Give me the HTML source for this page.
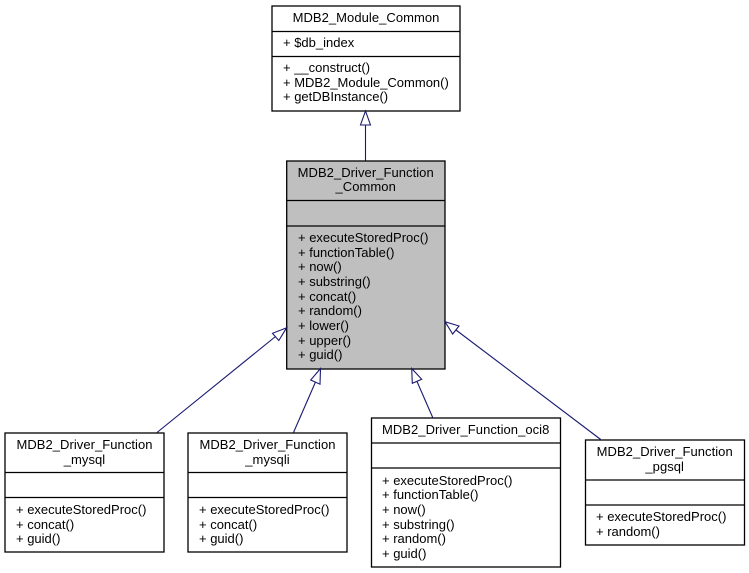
<!DOCTYPE html>
<html><head><meta charset="utf-8"><style>
html,body{margin:0;padding:0;background:#fff;width:749px;height:573px;overflow:hidden}
svg{display:block}
text{font-family:"Liberation Sans",sans-serif;font-size:13px;fill:#000}
.m{text-anchor:middle;letter-spacing:.05px}
rect,.d{stroke:#000;stroke-width:1.3}
.e{stroke:#191970;stroke-width:1.1;fill:none}
.a{stroke:#191970;stroke-width:1.1;fill:#fff}
</style></head><body>
<svg width="749" height="573" viewBox="0 0 749 573" xmlns="http://www.w3.org/2000/svg">
<rect x="272" y="6" width="188" height="105" fill="#fff"/>
<path class="d" d="M272 31.5H460M272 56.5H460"/>
<text class="m" x="366" y="22">MDB2_Module_Common</text>
<text x="283" y="47">+ $db_index</text>
<text x="283" y="72">+ __construct()</text>
<text x="283" y="87">+ MDB2_Module_Common()</text>
<text x="283" y="101">+ getDBInstance()</text>

<rect x="286.7" y="161" width="158.3" height="208" fill="#bfbfbf"/>
<path class="d" d="M286.7 200.5H445M286.7 226H445"/>
<text class="m" x="365.7" y="177">MDB2_Driver_Function</text>
<text class="m" x="365.7" y="191">_Common</text>
<text x="298" y="242">+ executeStoredProc()</text>
<text x="298" y="257">+ functionTable()</text>
<text x="298" y="271">+ now()</text>
<text x="298" y="286">+ substring()</text>
<text x="298" y="301">+ concat()</text>
<text x="298" y="315">+ random()</text>
<text x="298" y="330">+ lower()</text>
<text x="298" y="345">+ upper()</text>
<text x="298" y="359">+ guid()</text>

<rect x="5" y="433" width="159" height="119" fill="#fff"/>
<path class="d" d="M5 472.5H164M5 497.5H164"/>
<text class="m" x="84.5" y="449">MDB2_Driver_Function</text>
<text class="m" x="84.5" y="464">_mysql</text>
<text x="16" y="514">+ executeStoredProc()</text>
<text x="16" y="529">+ concat()</text>
<text x="16" y="543">+ guid()</text>

<rect x="188" y="433" width="159" height="119" fill="#fff"/>
<path class="d" d="M188 472.5H347M188 497.5H347"/>
<text class="m" x="267.5" y="449">MDB2_Driver_Function</text>
<text class="m" x="267.5" y="464">_mysqli</text>
<text x="199" y="514">+ executeStoredProc()</text>
<text x="199" y="529">+ concat()</text>
<text x="199" y="543">+ guid()</text>

<rect x="371.5" y="418" width="189" height="149" fill="#fff"/>
<path class="d" d="M371.5 443H560.5M371.5 468H560.5"/>
<text class="m" x="465.7" y="434">MDB2_Driver_Function_oci8</text>
<text x="382" y="485">+ executeStoredProc()</text>
<text x="382" y="499">+ functionTable()</text>
<text x="382" y="514">+ now()</text>
<text x="382" y="529">+ substring()</text>
<text x="382" y="543">+ random()</text>
<text x="382" y="558">+ guid()</text>

<rect x="585.5" y="440" width="159" height="105" fill="#fff"/>
<path class="d" d="M585.5 480H744.5M585.5 505H744.5"/>
<text class="m" x="664.7" y="456">MDB2_Driver_Function</text>
<text class="m" x="664.7" y="471">_pgsql</text>
<text x="596" y="521">+ executeStoredProc()</text>
<text x="596" y="536">+ random()</text>

<path class="e" d="M365.5 125V160.5"/>
<path class="a" d="M365.5 111L360.5 125H370.5Z"/>
<path class="e" d="M157 432.5L275.5 336.5"/>
<path class="a" d="M286.7 327.7L272.5 333.3L278.8 340.5Z"/>
<path class="e" d="M293.5 432.5L315.5 382"/>
<path class="a" d="M320.5 368.5L310.7 380L320 384.2Z"/>
<path class="e" d="M432.7 417.5L417 381.5"/>
<path class="a" d="M411.7 368.5L412.3 383.3L421.7 379.3Z"/>
<path class="e" d="M600.7 439.5L456 330"/>
<path class="a" d="M445 321.7L452.7 334L459 326Z"/>
</svg>
</body></html>
